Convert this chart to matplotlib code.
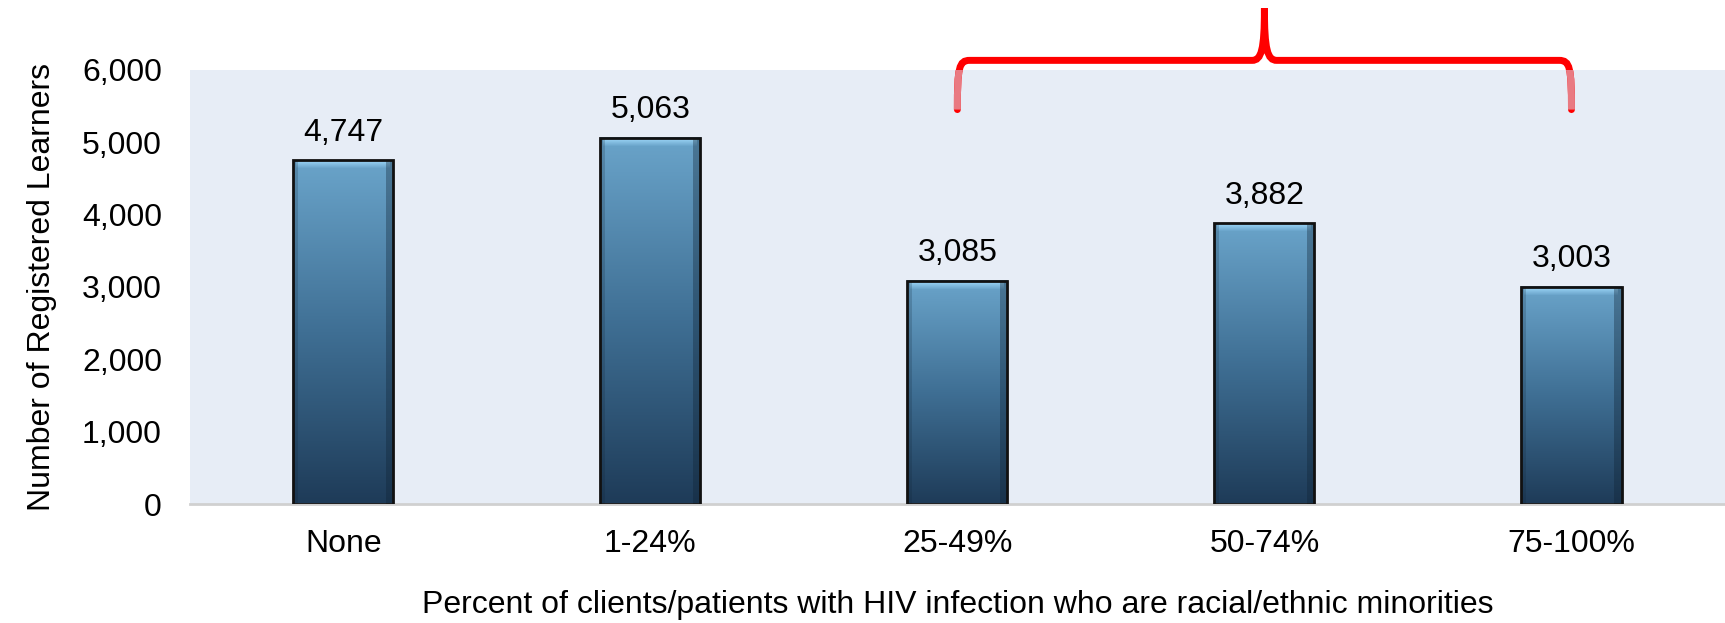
import numpy as np
import matplotlib.pyplot as plt
from matplotlib.colors import LinearSegmentedColormap
from matplotlib.patches import Rectangle
from matplotlib.path import Path
from matplotlib.patches import PathPatch

plt.rcParams['font.family'] = ['Liberation Sans', 'DejaVu Sans']

categories = ['None', '1-24%', '25-49%', '50-74%', '75-100%']
learners = [4747, 5063, 3085, 3882, 3003]
yticks = [0, 1000, 2000, 3000, 4000, 5000, 6000]

fig = plt.figure(figsize=(17.25, 6.23), dpi=100)
ax = fig.add_axes([0.110, 0.191, 0.890, 0.697])
ax.set_facecolor('#e7edf6')

x = np.arange(len(categories))
width = 0.326
fs = 23
cmap = LinearSegmentedColormap.from_list('bar', ['#6aa4ca', '#3f6f94', '#1e3b58'])
grad = np.linspace(0, 1, 256).reshape(-1, 1)
hl_cmap = LinearSegmentedColormap.from_list('hl', ['#9ad3f5', '#6aa4ca'])

for xi, v in zip(x, learners):
    ax.imshow(grad, cmap=cmap, aspect='auto', zorder=2,
              extent=[xi - width / 2, xi + width / 2, 0, v])
    # bevel highlight on top
    ax.imshow(grad, cmap=hl_cmap, aspect='auto', zorder=3,
              extent=[xi - width / 2 + 0.01, xi + width / 2 - 0.01, v - 110, v - 20])
    # darker side bevels
    ax.add_patch(Rectangle((xi + width / 2 - 0.025, 0), 0.025, v,
                           facecolor='#0f2233', alpha=0.35, edgecolor='none', zorder=3))
    ax.add_patch(Rectangle((xi - width / 2, 0), 0.015, v,
                           facecolor='#0f2233', alpha=0.2, edgecolor='none', zorder=3))
    ax.add_patch(Rectangle((xi - width / 2, 0), width, v, facecolor='none',
                           edgecolor='#111111', linewidth=2, zorder=4))
    ax.text(xi, v + 170, f'{v:,}', ha='center', va='bottom', fontsize=fs)

ax.set_xlim(-0.5, len(categories) - 0.5)
ax.set_ylim(0, 6000)
ax.set_xticks(x)
ax.set_xticklabels(categories, fontsize=fs)
ax.set_yticks(yticks)
ax.set_yticklabels([f'{t:,}' for t in yticks], fontsize=fs)
ax.tick_params(axis='y', length=0, pad=20)
ax.tick_params(axis='x', length=0, pad=18)
for s in ['top', 'right', 'left']:
    ax.spines[s].set_visible(False)
ax.spines['bottom'].set_color('#d0d0d0')
ax.spines['bottom'].set_linewidth(2)

ax.set_ylabel('Number of Registered Learners', fontsize=fs, labelpad=18)
ax.set_xlabel('Percent of clients/patients with HIV infection who are racial/ethnic minorities',
              fontsize=fs, labelpad=22)

# curly brace over the last three groups
x0, x1, xm = 2, 4, 3
y_end, y_mid, y_tip = 5450, 6130, 6850
c = 0.04
verts = [(x0, y_end), (x0, y_mid - 100), (x0 + 0.005, y_mid), (x0 + c, y_mid),
         (xm - c, y_mid), (xm - 0.01, y_mid), (xm, y_mid + 150), (xm, y_tip),
         (xm, y_mid + 150), (xm + 0.01, y_mid), (xm + c, y_mid),
         (x1 - c, y_mid), (x1 - 0.005, y_mid), (x1, y_mid - 100), (x1, y_end)]
codes = [Path.MOVETO, Path.CURVE4, Path.CURVE4, Path.CURVE4,
         Path.LINETO, Path.CURVE4, Path.CURVE4, Path.CURVE4,
         Path.CURVE4, Path.CURVE4, Path.CURVE4,
         Path.LINETO, Path.CURVE4, Path.CURVE4, Path.CURVE4]
brace = Path(verts, codes)
ax.add_patch(PathPatch(brace, facecolor='none', edgecolor='#ff0000', linewidth=5,
                       clip_on=False, zorder=5, capstyle='round'))
ax.add_patch(PathPatch(brace, facecolor='none', edgecolor='#e97a82', linewidth=5,
                       clip_on=True, zorder=6))

fig.savefig('out.png', dpi=100)
